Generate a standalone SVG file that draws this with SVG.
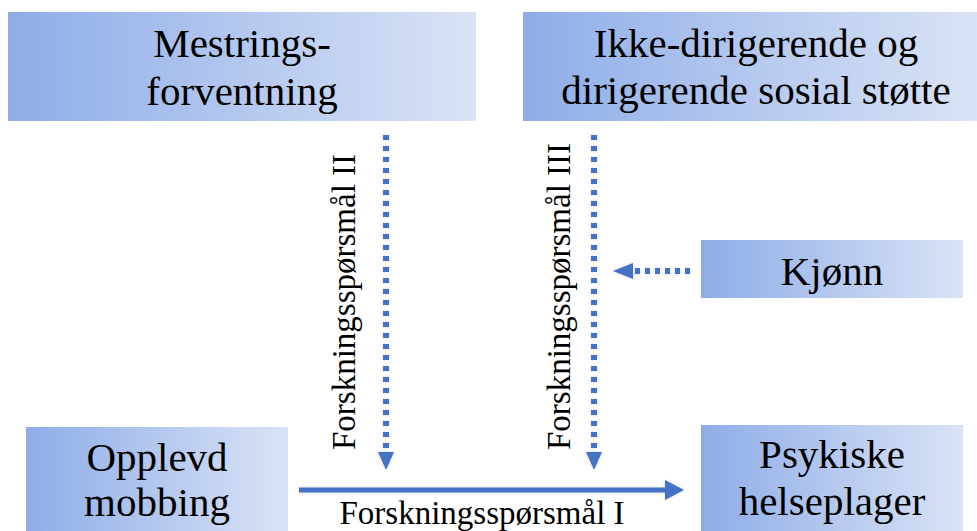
<svg xmlns="http://www.w3.org/2000/svg" width="977" height="531" viewBox="0 0 977 531">
  <style>
    .box { fill: url(#grad); }
    .t { font-family: "Liberation Serif", "Times New Roman", serif; font-size: 41px; fill: #000; text-anchor: middle; }
    .lbl { font-family: "Liberation Serif", "Times New Roman", serif; font-size: 33px; fill: #000; }
    .dot { stroke: #4472C4; stroke-width: 6; fill: none; }
    .solid { stroke: #4472C4; stroke-width: 5; fill: none; }
    .head { fill: #4472C4; }
  </style>
  <defs>
    <linearGradient id="grad" x1="0" y1="0" x2="1" y2="0">
      <stop offset="0" stop-color="#8EADE8"/>
      <stop offset="1" stop-color="#DAE3F5"/>
    </linearGradient>
    <filter id="glow" x="-20%" y="-20%" width="140%" height="140%">
      <feGaussianBlur in="SourceAlpha" stdDeviation="1.6" result="b"/>
      <feFlood flood-color="#000" flood-opacity="0.18"/>
      <feComposite in2="b" operator="in" result="s"/>
      <feMerge><feMergeNode in="s"/><feMergeNode in="SourceGraphic"/></feMerge>
    </filter>
  </defs>

  <rect width="977" height="531" fill="#fff"/>

  <g id="mestring">
    <rect class="box" x="8" y="12" width="468" height="109"/>
    <text class="t" x="242" y="57">Mestrings-</text>
    <text class="t" x="242" y="105">forventning</text>
  </g>

  <g id="sosialstotte">
    <rect class="box" x="523" y="12" width="454" height="109"/>
    <text class="t" x="756" y="57">Ikke-dirigerende og</text>
    <text class="t" x="756" y="104">dirigerende sosial støtte</text>
  </g>

  <g id="kjonn">
    <rect class="box" x="701" y="240" width="262" height="58"/>
    <text class="t" x="832" y="285">Kjønn</text>
  </g>

  <g id="mobbing">
    <rect class="box" x="26" y="427" width="262" height="104"/>
    <text class="t" x="157" y="471">Opplevd</text>
    <text class="t" x="157" y="516">mobbing</text>
  </g>

  <g id="helseplager">
    <rect class="box" x="701" y="425" width="262" height="106"/>
    <text class="t" x="832" y="468">Psykiske</text>
    <text class="t" x="832" y="515">helseplager</text>
  </g>

  <g id="connectors">
    <g filter="url(#glow)">
      <line class="dot" x1="386" y1="135" x2="386" y2="452" stroke-dasharray="5 6"/>
      <polygon class="head" points="378,452 394,452 386,470"/>
      <line class="dot" x1="594" y1="135" x2="594" y2="452" stroke-dasharray="5 6"/>
      <polygon class="head" points="586,452 602,452 594,470"/>
      <line class="dot" x1="690" y1="271" x2="633" y2="271" stroke-dasharray="5 5"/>
      <polygon class="head" points="633,263 633,279 613,271"/>
      <line class="solid" x1="299" y1="490" x2="666" y2="490"/>
      <polygon class="head" points="665,480 665,500 684,490"/>
    </g>
    <text class="lbl" x="482" y="524" text-anchor="middle">Forskningsspørsmål I</text>
    <text class="lbl" transform="translate(355,450) rotate(-90)">Forskningsspørsmål II</text>
    <text class="lbl" transform="translate(570,450) rotate(-90)">Forskningsspørsmål III</text>
  </g>
</svg>
